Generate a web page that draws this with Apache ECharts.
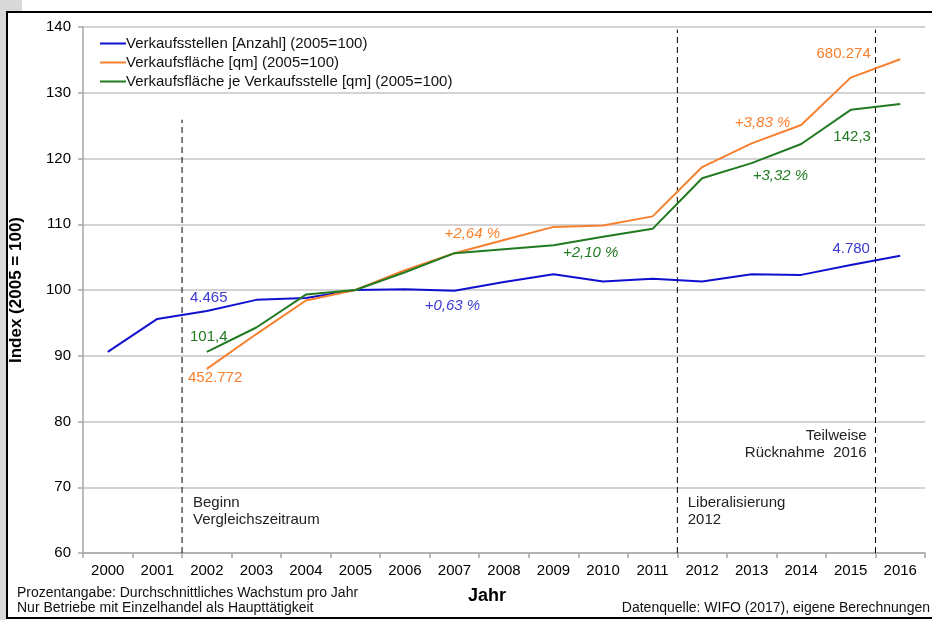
<!DOCTYPE html>
<html lang="de">
<head>
    <meta charset="UTF-8">
    <title>Verkaufsstellen und Verkaufsfläche</title>
    <script src="https://cdn.jsdelivr.net/npm/echarts@6/dist/echarts.min.js"></script>
    <style type="text/css">
        html, body { margin: 0; padding: 0; background: #fff; }
        #chart { width: 932px; height: 620px; }
    </style>
</head>
<body>
<div id="chart"></div>
<script type="text/javascript">
    // Jahre (Kategorien)
    var years = ['2000', '2001', '2002', '2003', '2004', '2005', '2006', '2007', '2008',
        '2009', '2010', '2011', '2012', '2013', '2014', '2015', '2016'];

    // Index 2005 = 100
    var verkaufsstellen = [90.6, 95.6, 96.8, 98.5, 98.8, 100, 100.1, 99.9, 101.2,
        102.4, 101.3, 101.7, 101.3, 102.4, 102.3, 103.8, 105.2];
    var verkaufsflaeche = [null, null, 88.0, 93.3, 98.4, 100, 103.0, 105.6, 107.6,
        109.6, 109.8, 111.2, 118.7, 122.3, 125.1, 132.3, 135.1];
    var flaecheJeStelle = [null, null, 90.6, 94.3, 99.3, 100, 102.7, 105.6, 106.2,
        106.8, 108.1, 109.3, 117.0, 119.3, 122.2, 127.4, 128.3];

    var seriesNames = ['Verkaufsstellen [Anzahl] (2005=100)', 'Verkaufsfläche [qm] (2005=100)',
        'Verkaufsfläche je Verkaufsstelle [qm] (2005=100)'];

    // Trennlinien (Position zwischen Jahren, Index auf Hilfsachse) : [x, yTop]
    var trennlinien = [[1.5, 125.9], [11.5, 139.6], [15.5, 139.6]];

    // Beschriftungen: [x, y, text, farbe, kursiv, ausrichtung]
    var blau = '#1010d0', orange = '#f7802f', gruen = '#217a21';
    var beschriftungen = [
        [1.66, 98.8, '4.465', '#3a3ad0', false, 'left'],
        [1.66, 92.85, '101,4', gruen, false, 'left'],
        [1.62, 86.6, '452.772', orange, false, 'left'],
        [6.4, 97.6, '+0,63 %', '#3a3ad0', true, 'left'],
        [6.8, 108.5, '+2,64 %', orange, true, 'left'],
        [9.19, 105.6, '+2,10 %', gruen, true, 'left'],
        [12.66, 125.4, '+3,83 %', orange, true, 'left'],
        [13.02, 117.3, '+3,32 %', gruen, true, 'left'],
        [14.31, 135.9, '680.274', orange, false, 'left'],
        [14.65, 123.3, '142,3', gruen, false, 'left'],
        [14.63, 106.2, '4.780', '#3a3ad0', false, 'left']
    ];
    var ereignisse = [
        [1.72, 67.6, 'Beginn\nVergleichszeitraum', 'left'],
        [11.71, 67.6, 'Liberalisierung\n2012', 'left'],
        [15.32, 77.8, 'Teilweise\nRücknahme  2016', 'right']
    ];

    var font = '"Liberation Sans", Arial, sans-serif';
    var chart = echarts.init(document.getElementById('chart'));

    var series = [
        { name: seriesNames[0], type: 'line', data: verkaufsstellen, color: blau },
        { name: seriesNames[1], type: 'line', data: verkaufsflaeche, color: orange },
        { name: seriesNames[2], type: 'line', data: flaecheJeStelle, color: gruen }
    ].map(function (s) {
        s.symbol = 'none';
        s.showSymbol = false;
        s.lineStyle = { width: 2, color: s.color };
        s.z = 5;
        s.animation = false;
        return s;
    });

    trennlinien.forEach(function (t) {
        series.push({
            type: 'line',
            xAxisIndex: 1,
            data: [[t[0], 60], [t[0], t[1]]],
            symbol: 'none',
            silent: true,
            animation: false,
            lineStyle: { color: '#000', width: 1, type: [6, 4] },
            z: 3
        });
    });

    chart.setOption({
        animation: false,
        textStyle: { fontFamily: font },
        grid: { left: 83, right: 7, top: 27, bottom: 67 },
        legend: {
            data: seriesNames,
            orient: 'vertical',
            left: 94,
            top: 31,
            itemWidth: 26,
            itemHeight: 15,
            itemGap: 4,
            itemStyle: { opacity: 0 },
            lineStyle: { width: 2 },
            textStyle: { fontSize: 15, color: '#111', fontFamily: font, padding: [0, 0, 0, -5] }
        },
        xAxis: [{
            type: 'category',
            data: years,
            axisLine: { lineStyle: { color: '#a6a6a6', width: 1.5 } },
            axisTick: { show: true, length: 5, lineStyle: { color: '#a6a6a6', width: 1.5 } },
            axisLabel: { color: '#000', fontSize: 15, margin: 10, fontFamily: font },
            splitLine: { show: false }
        }, {
            type: 'value',
            min: -0.5,
            max: 16.5,
            show: false
        }],
        yAxis: {
            type: 'value',
            min: 60,
            max: 140,
            interval: 10,
            name: 'Index (2005 = 100)',
            nameLocation: 'middle',
            nameGap: 58,
            nameTextStyle: { fontSize: 17, fontWeight: 'bold', color: '#000', fontFamily: font },
            axisLine: { show: true, onZero: false, lineStyle: { color: '#a6a6a6', width: 1.5 } },
            axisTick: { show: true, length: 5, lineStyle: { color: '#a6a6a6', width: 1.5 } },
            axisLabel: { color: '#000', fontSize: 15, margin: 12, fontFamily: font },
            splitLine: { lineStyle: { color: '#c4c4c4', width: 1.5 } }
        },
        series: series
    });

    // Texte über Achsenumrechnung platzieren
    var graphics = [];
    var px = function (x, y) {
        return chart.convertToPixel({ xAxisIndex: 1, yAxisIndex: 0 }, [x, y]);
    };
    beschriftungen.forEach(function (b) {
        var p = px(b[0], b[1]);
        graphics.push({
            type: 'text', x: p[0], y: p[1], z: 10,
            style: {
                text: b[2], fill: b[3], fontSize: 15, fontFamily: font,
                fontStyle: b[4] ? 'italic' : 'normal',
                align: b[5], verticalAlign: 'middle'
            }
        });
    });
    ereignisse.forEach(function (e) {
        var p = px(e[0], e[1]);
        graphics.push({
            type: 'text', x: p[0], y: p[1] - 9, z: 10,
            style: {
                text: e[2], fill: '#222', fontSize: 15, fontFamily: font,
                lineHeight: 17, align: e[3], verticalAlign: 'top'
            }
        });
    });

    // Rahmen und Fußtexte
    graphics.push(
        { type: 'rect', shape: { x: 0, y: 0, width: 22, height: 11 }, style: { fill: '#d9d9d9' }, z: 0 },
        { type: 'rect', shape: { x: 0, y: 0, width: 6, height: 620 }, style: { fill: '#d9d9d9' }, z: 0 },
        { type: 'line', shape: { x1: 6, y1: 12, x2: 932, y2: 12 }, style: { stroke: '#000', lineWidth: 2 }, z: 20 },
        { type: 'line', shape: { x1: 7, y1: 11, x2: 7, y2: 619 }, style: { stroke: '#000', lineWidth: 2 }, z: 20 },
        { type: 'line', shape: { x1: 6, y1: 618, x2: 932, y2: 618 }, style: { stroke: '#000', lineWidth: 2 }, z: 20 },
        { type: 'text', x: 17, y: 593, style: { text: 'Prozentangabe: Durchschnittliches Wachstum pro Jahr', fill: '#111', fontSize: 14, fontFamily: font, verticalAlign: 'middle' } },
        { type: 'text', x: 17, y: 608, style: { text: 'Nur Betriebe mit Einzelhandel als Haupttätigkeit', fill: '#111', fontSize: 14, fontFamily: font, verticalAlign: 'middle' } },
        { type: 'text', x: 468, y: 596, style: { text: 'Jahr', fill: '#000', fontSize: 18, fontWeight: 'bold', fontFamily: font, verticalAlign: 'middle' } },
        { type: 'text', x: 930, y: 608, style: { text: 'Datenquelle: WIFO (2017), eigene Berechnungen', fill: '#111', fontSize: 14, fontFamily: font, align: 'right', verticalAlign: 'middle' } }
    );
    chart.setOption({ graphic: graphics });
</script>
</body>
</html>
